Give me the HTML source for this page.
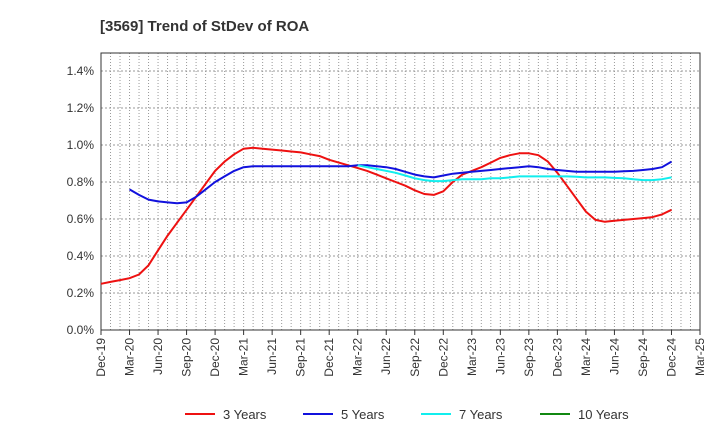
<!DOCTYPE html>
<html><head><meta charset="utf-8"><style>
body{margin:0;background:#fff;font-family:"Liberation Sans",sans-serif;}
svg text{font-family:"Liberation Sans",sans-serif;}
</style></head><body>
<svg width="720" height="440">
<text x="100" y="31" font-size="15" font-weight="bold" fill="#333">[3569]  Trend of StDev of ROA</text>
<g id="grid"></g><g id="axes"></g><g id="series"></g><g id="legend"></g>
</svg>
<script>
const yTicks=[0,0.2,0.4,0.6,0.8,1.0,1.2,1.4];
const xLabels=["Dec-19","Mar-20","Jun-20","Sep-20","Dec-20","Mar-21","Jun-21","Sep-21","Dec-21","Mar-22","Jun-22","Sep-22","Dec-22","Mar-23","Jun-23","Sep-23","Dec-23","Mar-24","Jun-24","Sep-24","Dec-24","Mar-25"];
const s3=[.25,.26,.27,.28,.30,.35,.43,.51,.58,.65,.72,.79,.86,.91,.95,.98,.985,.98,.975,.97,.965,.96,.95,.94,.92,.905,.89,.875,.86,.84,.82,.80,.78,.755,.735,.73,.75,.80,.84,.86,.88,.905,.93,.945,.955,.955,.945,.91,.85,.78,.71,.64,.595,.585,.59,.595,.60,.605,.61,.625,.65];
const s5=[null,null,null,.76,.73,.705,.695,.69,.685,.69,.72,.76,.80,.83,.86,.88,.885,.885,.885,.885,.885,.885,.885,.885,.885,.885,.885,.89,.89,.885,.88,.87,.855,.84,.83,.825,.835,.845,.85,.855,.86,.865,.87,.875,.88,.885,.88,.87,.865,.86,.855,.855,.855,.855,.855,.858,.86,.865,.87,.88,.91];
const s7=[...Array(27).fill(null),.89,.88,.87,.86,.85,.835,.82,.81,.805,.805,.81,.815,.815,.815,.82,.82,.825,.83,.83,.83,.83,.83,.83,.828,.825,.825,.825,.822,.82,.815,.81,.81,.815,.825];
const s10=[];
const seriesNames=["3 Years","5 Years","7 Years","10 Years"];
const seriesColors=["#ee1111","#1111dd","#11eeee","#118811"];
const NS="http://www.w3.org/2000/svg";
const L=101,R=700,T=53,B=330;
const xm=i=>L+i*(R-L)/63;
const ym=v=>B-v*(B-71)/1.4;
function mk(p,t,a){const e=document.createElementNS(NS,t);for(const k in a)e.setAttribute(k,a[k]);p.appendChild(e);return e;}
const grid=document.getElementById('grid'),axes=document.getElementById('axes');
for(let i=1;i<63;i++){const g=mk(grid,'line',{x1:xm(i),x2:xm(i),y1:T,y2:B,stroke:'#999','stroke-dasharray':'1,2','stroke-width':1});

}
yTicks.forEach(v=>{const y=ym(v);
if(v>0){const g=mk(grid,'line',{x1:L,x2:R,y1:y,y2:y,stroke:'#999','stroke-dasharray':'2,2'});

}
const t=mk(axes,'text',{x:L-7,y:y+4,'text-anchor':'end','font-size':12,fill:'#333'});t.textContent=v.toFixed(1)+'%';

});
const fr=mk(axes,'rect',{x:L,y:T,width:R-L,height:B-T,fill:'none',stroke:'#333'});


xLabels.forEach((s,k)=>{const x=xm(k*3);
mk(axes,'line',{x1:x,x2:x,y1:B,y2:B+5,stroke:'#333'});
const t=mk(axes,'text',{transform:`translate(${x+4},${B+8}) rotate(-90)`,'text-anchor':'end','font-size':12,fill:'#333'});t.textContent=s;

});
const ser=document.getElementById('series');
[s3,s5,s7,s10].forEach((d,j)=>{let p='';d.forEach((v,i)=>{if(v==null)return;p+=(p?'L':'M')+xm(i).toFixed(1)+','+ym(v).toFixed(1);});
if(!p)return;const e=mk(ser,'path',{d:p,fill:'none',stroke:seriesColors[j],'stroke-width':2,'stroke-linejoin':'round'});

});
const lg=document.getElementById('legend');const lx=[185,303,421,540];
seriesNames.forEach((n,j)=>{const g=mk(lg,'g',{});


mk(g,'line',{x1:lx[j],x2:lx[j]+30,y1:414,y2:414,stroke:seriesColors[j],'stroke-width':2});
const t=mk(g,'text',{x:lx[j]+38,y:419,'font-size':13,fill:'#333'});t.textContent=n;});
</script>
</body></html>
